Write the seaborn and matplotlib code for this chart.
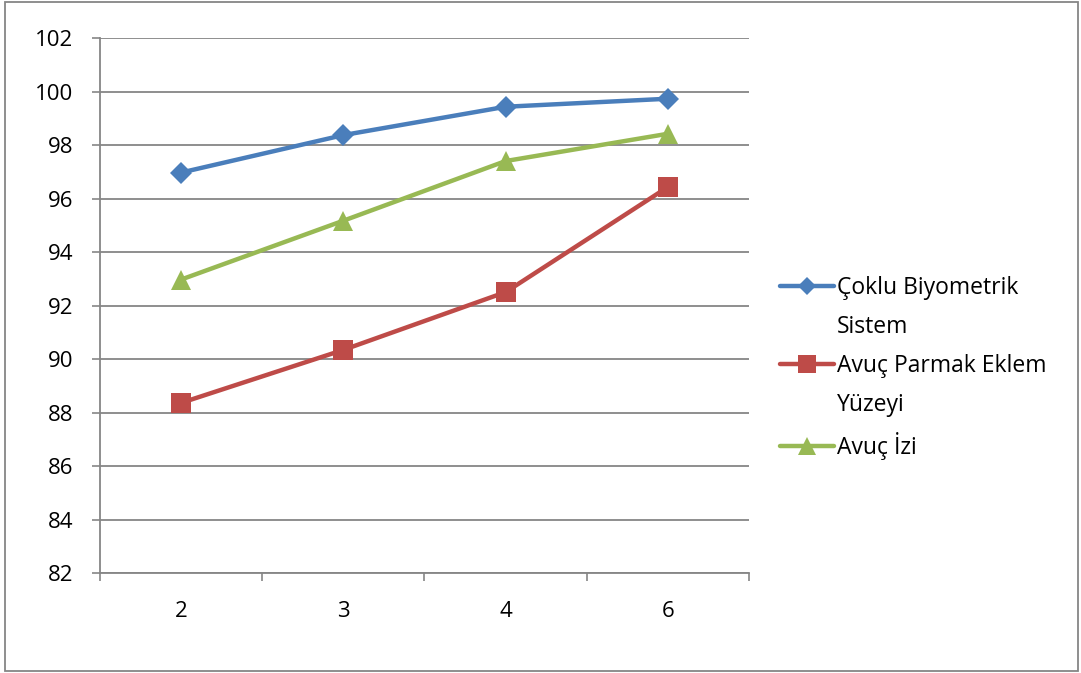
import numpy as np
import pandas as pd
import matplotlib
matplotlib.use('Agg')
import matplotlib.pyplot as plt
import seaborn as sns
from matplotlib.lines import Line2D
from matplotlib.patches import Rectangle

# ------------------------------------------------------------------
# Data
# ------------------------------------------------------------------
categories = ['2', '3', '4', '6']
series_names = ['Çoklu Biyometrik Sistem', 'Avuç Parmak Eklem Yüzeyi', 'Avuç İzi']
coklu = [96.97, 98.37, 99.43, 99.73]
parmak = [88.36, 90.34, 92.50, 96.43]
avuc = [92.97, 95.17, 97.40, 98.42]

colors = ['#4A7EBB', '#BE4B48', '#98B954']
markers = ['D', 's', '^']
marker_sizes = [11, 14, 14]

df = pd.DataFrame({
    'x': categories * 3,
    'value': coklu + parmak + avuc,
    'series': np.repeat(series_names, len(categories)),
})

# ------------------------------------------------------------------
# Plot
# ------------------------------------------------------------------
sns.set_theme(style='white')
plt.rcParams['font.family'] = ['Open Sans', 'DejaVu Sans']
plt.rcParams['text.color'] = 'black'
plt.rcParams['xtick.labelcolor'] = 'black'
plt.rcParams['ytick.labelcolor'] = 'black'

fig = plt.figure(figsize=(10.81, 6.73), dpi=100)
ax = fig.add_axes([100 / 1081, 1 - 573 / 673, 649 / 1081, 535 / 673])

sns.lineplot(data=df, x='x', y='value', hue='series', style='series',
             markers=dict(zip(series_names, markers)), dashes=False,
             palette=dict(zip(series_names, colors)), linewidth=3.2,
             markeredgewidth=0, legend=False, ax=ax)

for line, ms in zip(ax.lines, marker_sizes):
    line.set_markersize(ms)
    line.set_solid_capstyle('round')

# Axes styling
grid_col = '#868686'
ax.set_xlim(-0.5, 3.5)
ax.set_ylim(82, 102)
ax.set_yticks(range(82, 103, 2))
ax.set_xticks(range(len(categories)))
ax.set_xticklabels(categories)
ax.set_xticks(np.arange(-0.5, len(categories), 1), minor=True)
ax.set_xlabel('')
ax.set_ylabel('')
ax.yaxis.grid(True, color=grid_col, lw=1.3)
ax.xaxis.grid(False)
ax.set_axisbelow(True)
for side in ['top', 'right']:
    ax.spines[side].set_visible(False)
for side in ['left', 'bottom']:
    ax.spines[side].set_color(grid_col)
    ax.spines[side].set_linewidth(1.3)

ax.tick_params(axis='y', which='major', direction='out', length=6, width=1.2,
               color=grid_col, pad=13, labelsize=16, left=True)
ax.tick_params(axis='x', which='major', length=0, pad=20, labelsize=16)
ax.tick_params(axis='x', which='minor', direction='out', length=6, width=1.2,
               color=grid_col, bottom=True)

# Legend with wrapped labels
handles, labels = [], []
wrapped = [['Çoklu Biyometrik', 'Sistem'], ['Avuç Parmak Eklem', 'Yüzeyi'], ['Avuç İzi']]
for col, mk, ms, parts in zip(colors, markers, [9, 13, 12.5], wrapped):
    handles.append(Line2D([], [], color=col, lw=3.2, marker=mk, ms=ms,
                          markeredgewidth=0, solid_capstyle='round'))
    labels.append(parts[0])
    for extra in parts[1:]:
        handles.append(Line2D([], [], linestyle='none'))
        labels.append(extra)

fig.legend(handles, labels, loc='upper left', bbox_to_anchor=(780 / 1081, 1 - 276 / 673),
           frameon=False, fontsize=16.5, handlelength=2.35, handletextpad=0.15,
           labelspacing=0.65, borderpad=0, borderaxespad=0)

# Outer chart border
fig.add_artist(Rectangle((5 / 1081, 2 / 673), 1073 / 1081, 669 / 673,
                         transform=fig.transFigure, fill=False,
                         edgecolor=grid_col, lw=1.3))

plt.savefig('out.png', dpi=100)
